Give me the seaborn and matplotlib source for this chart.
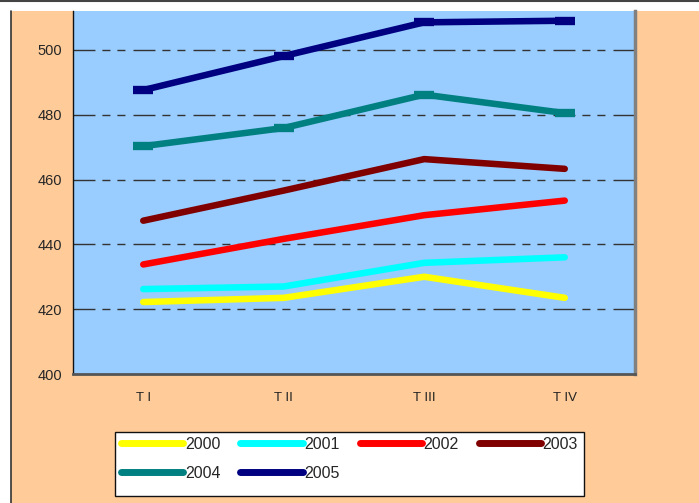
import matplotlib
matplotlib.use("Agg")
import matplotlib.pyplot as plt
from matplotlib.lines import Line2D
from matplotlib.patches import Rectangle
import seaborn as sns
import pandas as pd

QUARTERS = ["T I", "T II", "T III", "T IV"]
YEARS = ["2000", "2001", "2002", "2003", "2004", "2005"]
V2000 = [422.2, 423.5, 430.0, 423.5]
V2001 = [426.2, 427.0, 434.3, 436.0]
V2002 = [433.8, 441.7, 449.0, 453.5]
V2003 = [447.3, 456.6, 466.3, 463.3]
V2004 = [470.3, 475.9, 486.2, 480.5]
V2005 = [487.6, 498.1, 508.5, 509.0]
COLORS = ["#FFFF00", "#00FFFF", "#FF0000", "#800000", "#008080", "#000080"]

OUT_PATH = "out.png"
W, H = 699, 503


def main():
    values = [V2000, V2001, V2002, V2003, V2004, V2005]
    rows = []
    for year, vals in zip(YEARS, values):
        for q, v in zip(QUARTERS, vals):
            rows.append({"quarter": q, "value": v, "year": year})
    df = pd.DataFrame(rows)

    sns.set_style("white")
    plt.rcParams["font.family"] = ["Liberation Sans", "DejaVu Sans"]

    fig = plt.figure(figsize=(W / 100, H / 100), dpi=100, facecolor="white")
    # peach chart area + frame lines
    fig.add_artist(Rectangle((11 / W, 0), 1, 492 / H, transform=fig.transFigure,
                             facecolor="#FFCC99", edgecolor="none", zorder=0))
    fig.add_artist(Line2D([10.5 / W, 10.5 / W], [0, 492 / H], transform=fig.transFigure,
                          color="#333333", lw=1.2))
    fig.add_artist(Line2D([0, 1], [502.5 / H, 502.5 / H], transform=fig.transFigure,
                          color="#444444", lw=1.5))

    ax = fig.add_axes([73 / W, 129 / H, 562 / W, 363 / H])
    ax.set_facecolor("#99CCFF")

    sns.lineplot(data=df, x="quarter", y="value", hue="year", hue_order=YEARS,
                 palette=COLORS, sort=False, lw=4.7, ax=ax, legend=False)

    for i, line in enumerate(ax.lines):
        if i >= 4:
            line.set_solid_capstyle("butt")
            line.set_marker("_")
            line.set_markersize(15)
            line.set_markeredgewidth(6)
            line.set_markeredgecolor(COLORS[i])
            line.set_markerfacecolor(COLORS[i])
        else:
            line.set_solid_capstyle("round")

    ax.set_xlim(-0.5, 3.5)
    ax.set_ylim(400, 512)
    ax.set_yticks([400, 420, 440, 460, 480, 500])
    ax.set_xticks(range(4))
    ax.set_xticklabels(QUARTERS, fontsize=9.5, color="#222222", fontstretch="condensed")
    ax.set_xticks([0.5, 1.5, 2.5], minor=True)
    ax.tick_params(axis="x", which="major", length=0, pad=13)
    ax.tick_params(axis="x", which="minor", length=4, width=1, color="#333333", direction="out")
    ax.tick_params(axis="y", length=5, width=1, color="#111111", direction="out",
                   labelsize=10.5, pad=3)
    ax.set_xlabel("")
    ax.set_ylabel("")

    for y in [420, 440, 460, 480, 500]:
        ax.axhline(y, color="#333333", lw=1,
                   linestyle=(0, (15.8, 5, 5.8, 5, 5.8, 5.8)), zorder=1)

    ax.spines["top"].set_visible(False)
    ax.spines["left"].set_color("#111111")
    ax.spines["left"].set_linewidth(1)
    ax.spines["bottom"].set_color("#555555")
    ax.spines["bottom"].set_linewidth(2)
    ax.spines["right"].set_color("#808080")
    ax.spines["right"].set_linewidth(2.5)

    # legend box drawn separately (content sits high in the box, as in the original)
    fig.add_artist(Rectangle((115 / W, 7 / H), 469 / W, 64 / H, transform=fig.transFigure,
                             facecolor="white", edgecolor="#111111", lw=1, zorder=2))

    # matplotlib fills legend columns first; reorder so rows read 2000..2003 / 2004, 2005
    order = [0, 4, 1, 5, 2, 3]
    handles = [Line2D([], [], color=COLORS[k], lw=5, solid_capstyle="round") for k in order]
    labels = [YEARS[k] for k in order]
    leg = fig.legend(handles, labels, loc="upper left",
                     bbox_to_anchor=(121 / W, (H - 437) / H, 457 / W, 0),
                     mode="expand", ncol=4, fontsize=11.5, frameon=False,
                     handlelength=3.9, handletextpad=0.1, columnspacing=0.2,
                     borderaxespad=0, borderpad=0, labelspacing=0.85)
    leg.set_zorder(3)

    fig.savefig(OUT_PATH, dpi=100, facecolor=fig.get_facecolor())
    plt.close(fig)


if __name__ == "__main__":
    main()
